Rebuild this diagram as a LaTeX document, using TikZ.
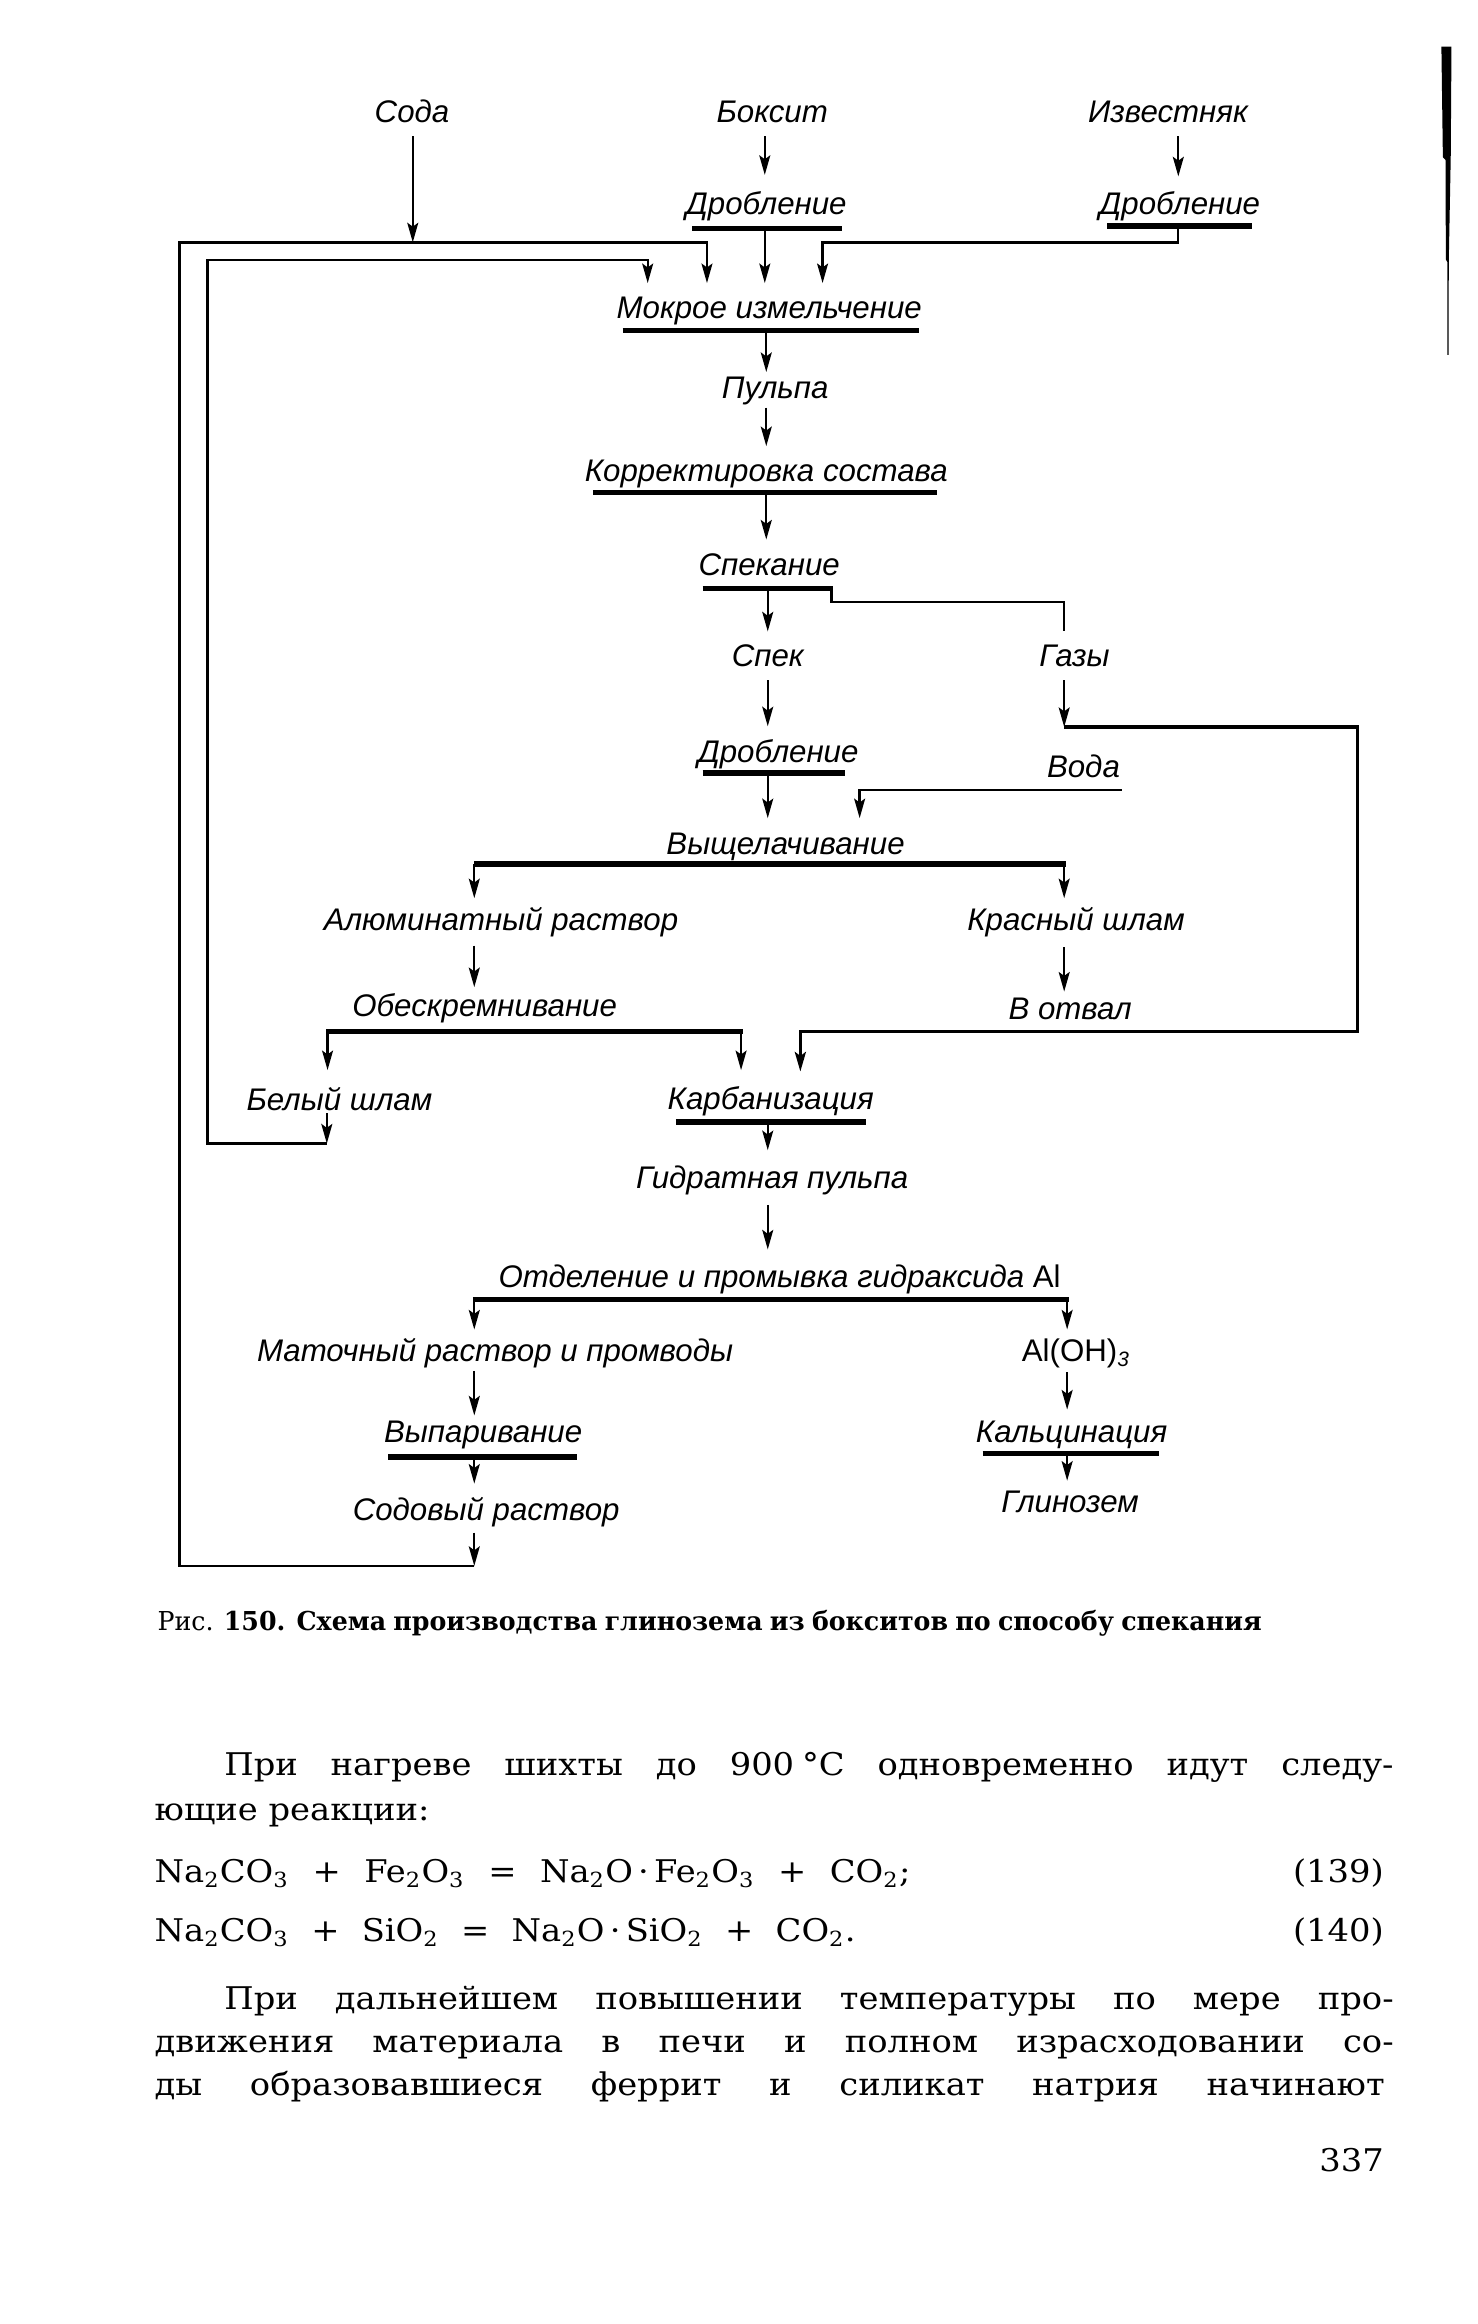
\documentclass[tikz,border=0pt]{standalone}
\usepackage{fontspec}
\setmainfont{DejaVu Serif}
\newfontfamily\labfont{Liberation Sans}
\newfontfamily\bodyfont[FakeStretch=1.08]{DejaVu Serif}
\newfontfamily\capfont[FakeStretch=0.97]{DejaVu Serif}
\usetikzlibrary{arrows.meta}
\newcommand\sbs[1]{\textsubscript{#1}}
\begin{document}
\begin{tikzpicture}[x=0.02cm,y=-0.02cm,
  lbl/.style={font=\labfont\itshape\fontsize{12}{14}\selectfont, inner sep=0pt, text height=8.6pt, text depth=0pt, anchor=center},
  ln/.style={line width=0.9pt},
  lnm/.style={line width=1.3pt},
  ul/.style={line width=2pt},
  arr/.style={line width=0.9pt, -{Stealth[length=7.5pt,width=4.2pt,inset=1.5pt]}},
  body/.style={font=\bodyfont\fontsize{12}{14}\selectfont, inner sep=0pt, anchor=base west},
  bodyr/.style={font=\bodyfont\fontsize{12}{14}\selectfont, inner sep=0pt, anchor=base east},
]
\fill[white] (0,0) rectangle (997,1568);
\useasboundingbox (0,0) rectangle (997,1568);

% scan edge bar
\fill (972.5,31.5) -- (973.5,106) -- (975.3,108) -- (975.5,175) -- (976.6,177) -- (976.6,239.5)
  -- (977.3,239.5) -- (977.5,175) -- (978.8,106) -- (979.3,31.5) -- cycle;

% ---------- labels ----------
\node[lbl] (soda)  at (278,75)  {Сода};
\node[lbl] (boks)  at (521,75)  {Боксит};
\node[lbl] (izv)   at (788,75)  {Известняк};
\node[lbl] (dr1)   at (517,137) {Дробление};
\node[lbl] (dr2)   at (796,137) {Дробление};
\node[lbl] (mok)   at (519,207) {Мокрое измельчение};
\node[lbl] (pulp)  at (523,261) {Пульпа};
\node[lbl] (korr)  at (517,317) {Корректировка состава};
\node[lbl] (spek)  at (519,381) {Спекание};
\node[lbl] (spk)   at (518,442) {Спек};
\node[lbl] (gaz)   at (725,442) {Газы};
\node[lbl] (dr3)   at (525,507) {Дробление};
\node[lbl] (voda)  at (731,517) {Вода};
\node[lbl] (vysh)  at (530,569) {Выщелачивание};
\node[lbl] (alum)  at (338,620) {Алюминатный раствор};
\node[lbl] (kras)  at (726,620) {Красный шлам};
\node[lbl] (obes)  at (327,678) {Обескремнивание};
\node[lbl] (otv)   at (722,680) {В отвал};
\node[lbl] (bel)   at (229,742) {Белый шлам};
\node[lbl] (karb)  at (520,741) {Карбанизация};
\node[lbl] (gidr)  at (521,794) {Гидратная пульпа};
\node[lbl] (otd)   at (526,861) {Отделение и промывка гидраксида {\upshape Al}};
\node[lbl] (mat)   at (334,911) {Маточный раствор и промводы};
\node[lbl] (aloh)  at (726,911) {{\upshape Al(OH)}\sbs{3}};
\node[lbl] (vyp)   at (326,966) {Выпаривание};
\node[lbl] (kalc)  at (723,966) {Кальцинация};
\node[lbl] (soda2) at (328,1018) {Содовый раствор};
\node[lbl] (glin)  at (722,1013) {Глинозем};

% ---------- underlines ----------
\draw[ul] (467,154) -- (568,154);
\draw[ul] (747,152.5) -- (845,152.5);
\draw[ul] (420,223) -- (620,223);
\draw[ul] (400,332.5) -- (632,332.5);
\draw[ul] (474,397) -- (562,397);
\draw[ul] (474,521.5) -- (570,521.5);
\draw[ul] (320,583) -- (719,583);
\draw[ul] (220,696) -- (501,696);
\draw[ul] (456,757) -- (584,757);
\draw[ul] (319,876.5) -- (721,876.5);
\draw[ul] (262,983) -- (389,983);
\draw[ul] (663,980.5) -- (782,980.5);

% ---------- connector coordinates ----------
\coordinate (sodaB) at (278.5,92);   \coordinate (sodaJ) at (278.5,163.5);
\coordinate (boksB) at (516,92);     \coordinate (dr1T) at (516,118);
\coordinate (izvB)  at (795,92);     \coordinate (dr2T) at (795,119);
\coordinate (dr1B)  at (516,154);    \coordinate (mokT1) at (516,191);
\coordinate (dr2B)  at (795,152.5);  \coordinate (dr2K) at (555,163.5); \coordinate (mokT2) at (555,191);
\coordinate (s2B)   at (320,1034);   \coordinate (s2K) at (320,1056.5);
\coordinate (oL)    at (121,1056.5); \coordinate (oT) at (121,163.5);   \coordinate (mokT3) at (477,191);
\coordinate (belB)  at (220.5,751);  \coordinate (belK) at (220.5,771.5);
\coordinate (iL)    at (140,771.5);  \coordinate (iT) at (140,175.5);   \coordinate (mokT4) at (437,191);
\coordinate (mokB)  at (517,223);    \coordinate (pulT) at (517,251);
\coordinate (pulB)  at (517,275);    \coordinate (korT) at (517,301);
\coordinate (korB)  at (517,332.5);  \coordinate (spT) at (517,364);
\coordinate (spB)   at (518,397);    \coordinate (spkT) at (518,426);
\coordinate (spS)   at (561,397);    \coordinate (spS2) at (561,406);   \coordinate (gazT) at (718,426);
\coordinate (spkB)  at (518,459);    \coordinate (dr3T) at (518,490);
\coordinate (gazB)  at (718,459);    \coordinate (gazK) at (718,490.5);
\coordinate (rR1)   at (916,490.5);  \coordinate (rR2) at (916,696);    \coordinate (karbT2) at (540,723);
\coordinate (dr3B)  at (518,521.5);  \coordinate (vyshT) at (518,552);
\coordinate (vodaE) at (757,533);    \coordinate (vodaK) at (580,533);  \coordinate (vyshT2) at (580,552);
\coordinate (vyL)   at (320,583);    \coordinate (alT) at (320,606);
\coordinate (vyR)   at (718,583);    \coordinate (krT) at (718,606);
\coordinate (alB)   at (320,638);    \coordinate (obT) at (320,666);
\coordinate (krB)   at (718,639);    \coordinate (otvT) at (718,669);
\coordinate (obL)   at (221,696);    \coordinate (belT) at (221,722);
\coordinate (obR)   at (500,696);    \coordinate (karbT) at (500,722);
\coordinate (karbB) at (518,757);    \coordinate (giT) at (518,776);
\coordinate (giB)   at (518,813);    \coordinate (otdT) at (518,843);
\coordinate (otL)   at (320,876.5);  \coordinate (matT) at (320,897);
\coordinate (otR)   at (720,876.5);  \coordinate (alohT) at (720,897);
\coordinate (matB)  at (320,925);    \coordinate (vypT) at (320,955);
\coordinate (alohB) at (720,926);    \coordinate (kalT) at (720,951);
\coordinate (vypB)  at (320,983);    \coordinate (s2T) at (320,1001);
\coordinate (kalB)  at (720,980.5);  \coordinate (glT) at (720,999);

% ---------- connectors ----------
\draw[arr] (sodaB) -- (sodaJ);
\draw[arr] (boksB) -- (dr1T);
\draw[arr] (izvB) -- (dr2T);
\draw[arr] (dr1B) -- (mokT1);
\draw[arr] (dr2B) |- (dr2K) -- (mokT2);
\draw[arr] (s2B) -- (s2K);
\draw[arr] (s2K) -- (oL) -- (oT) -| (mokT3);
\draw[arr] (belB) -- (belK);
\draw[arr] (belK) -- (iL) -- (iT) -| (mokT4);
\draw[arr] (mokB) -- (pulT);
\draw[arr] (pulB) -- (korT);
\draw[arr] (korB) -- (spT);
\draw[arr] (spB) -- (spkT);
\draw[ln] (spS) -- (spS2) -| (gazT);
\draw[arr] (spkB) -- (dr3T);
\draw[arr] (gazB) -- (gazK);
\draw[arr, line width=1.3pt] (gazK) -- (rR1) -- (rR2) -| (karbT2);
\draw[arr] (dr3B) -- (vyshT);
\draw[arr] (vodaE) -- (vodaK) -- (vyshT2);
\draw[arr] (vyL) -- (alT);
\draw[arr] (vyR) -- (krT);
\draw[arr] (alB) -- (obT);
\draw[arr] (krB) -- (otvT);
\draw[arr] (obL) -- (belT);
\draw[arr] (obR) -- (karbT);
\draw[arr] (karbB) -- (giT);
\draw[arr] (giB) -- (otdT);
\draw[arr] (otL) -- (matT);
\draw[arr] (otR) -- (alohT);
\draw[arr] (matB) -- (vypT);
\draw[arr] (alohB) -- (kalT);
\draw[arr] (vypB) -- (s2T);
\draw[arr] (kalB) -- (glT);

% ---------- caption and text ----------
\node[anchor=base west, inner sep=0pt] (cap) at (106,1100)
  {\makebox[14.9cm][s]{\capfont\fontsize{10}{12}\selectfont Рис. \bfseries 150. Схема производства глинозема из бокситов по способу спекания}};

\node[body] (l1) at (151,1198) {\makebox[15.78cm][s]{При нагреве шихты до 900\kern3pt °C одновременно идут следу-}};
\node[body] (l2) at (104,1228) {ющие реакции:};
\node[body] (e1) at (104,1270) {\makebox[10.2cm][s]{Na\sbs{2}CO\sbs{3} + Fe\sbs{2}O\sbs{3} = Na\sbs{2}O\kern2pt·\kern2pt Fe\sbs{2}O\sbs{3} + CO\sbs{2};}};
\node[bodyr] (n1) at (934,1270) {(139)};
\node[body] (e2) at (104,1310) {\makebox[9.46cm][s]{Na\sbs{2}CO\sbs{3} + SiO\sbs{2} = Na\sbs{2}O\kern2pt·\kern2pt SiO\sbs{2} + CO\sbs{2}.}};
\node[bodyr] (n2) at (934,1310) {(140)};
\node[body] (p1) at (151,1356) {\makebox[15.78cm][s]{При дальнейшем повышении температуры по мере про-}};
\node[body] (p2) at (104,1385) {\makebox[16.72cm][s]{движения материала в печи и полном израсходовании со-}};
\node[body] (p3) at (104,1414) {\makebox[16.6cm][s]{ды образовавшиеся феррит и силикат натрия начинают}};
\node[bodyr] (pg) at (934,1465) {337};
\end{tikzpicture}
\end{document}
